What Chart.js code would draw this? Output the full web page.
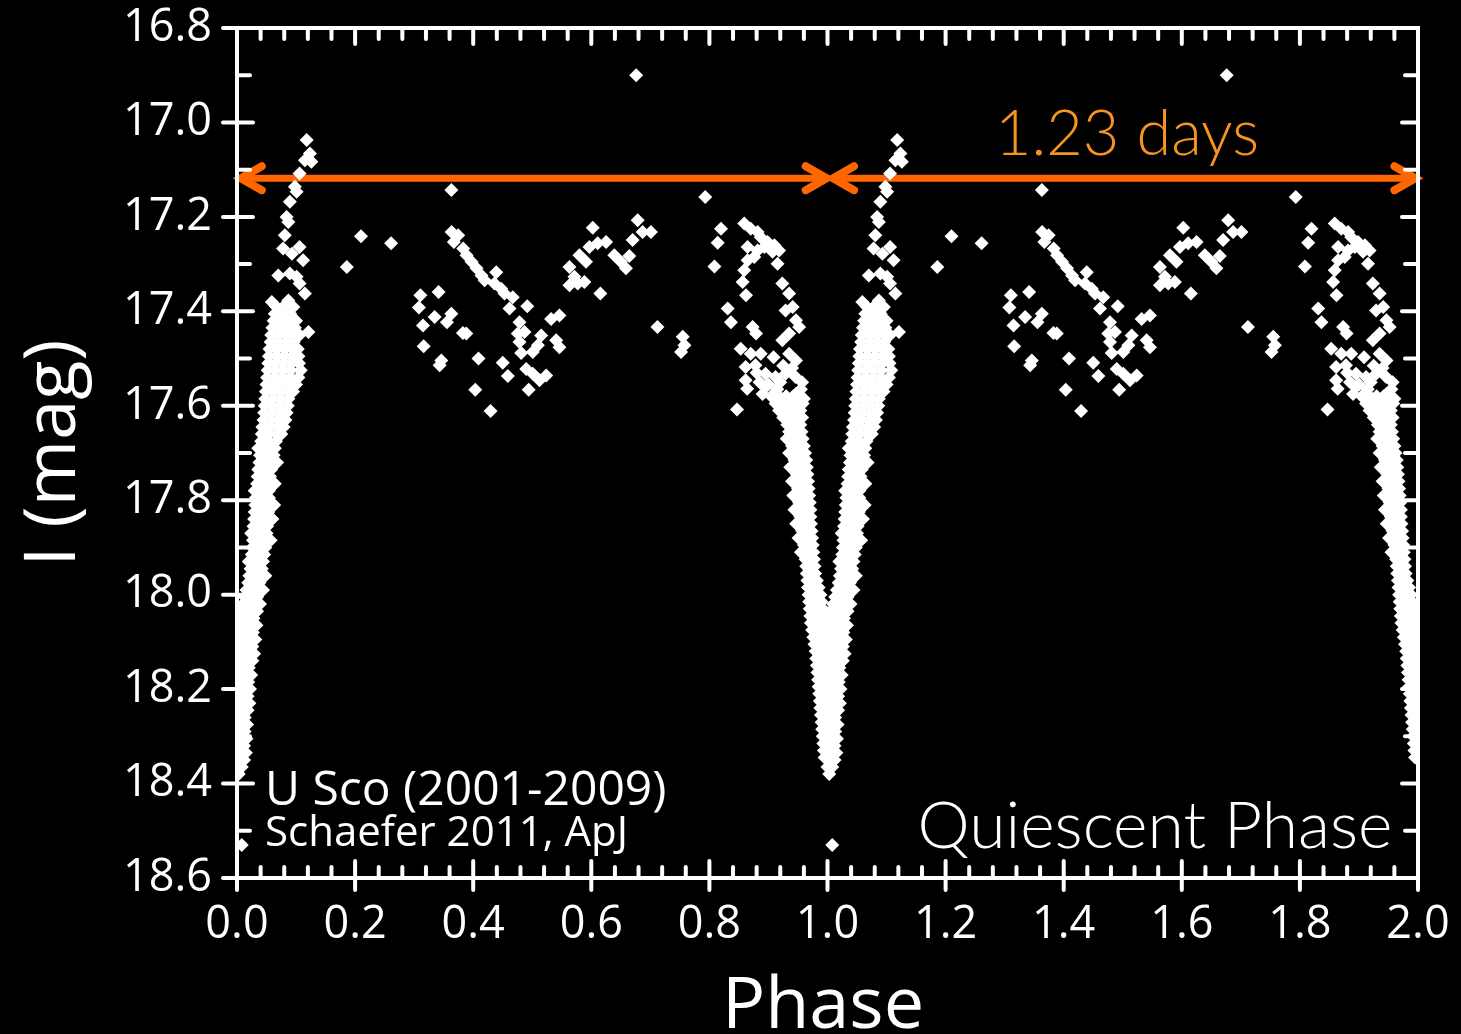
<!DOCTYPE html>
<html><head><meta charset="utf-8">
<script src="https://cdn.jsdelivr.net/npm/chart.js@4.4.1/dist/chart.umd.min.js"></script>
<style>html,body{margin:0;padding:0;background:#000;overflow:hidden}#wrap{width:1461px;height:1034px}</style>
</head><body><div id="wrap"><canvas id="c" width="1461" height="1034"></canvas></div>
<script>
// ---- tick values ----
const xTickValues = [0.0,0.2,0.4,0.6,0.8,1.0,1.2,1.4,1.6,1.8,2.0];
const yTickValues = [16.8,17.0,17.2,17.4,17.6,17.8,18.0,18.2,18.4,18.6];
const cycleShifts = [0, 1];           // each folded phase point is shown in two cycles
const periodArrowMag = 17.118;        // magnitude of the orange period arrows
const periodText = "1.23 days";

// ---- data: egress band, rows of [I mag, [phases...]] (phase folded 0..1) ----
const egressRows = [
 [18.38,[0.003]],
 [18.365,[0.000,0.008]],
 [18.35,[0.004,0.012]],
 [18.335,[0.000,0.008,0.015]],
 [18.32,[0.003,0.012]],
 [18.305,[0.000,0.008,0.016]],
 [18.29,[0.004,0.013]],
 [18.275,[0.000,0.009,0.017]],
 [18.26,[0.004,0.013]],
 [18.245,[0.000,0.009,0.018]],
 [18.23,[0.004,0.014,0.021]],
 [18.215,[0.000,0.009,0.018]],
 [18.20,[0.004,0.014,0.022]],
 [18.185,[0.000,0.009,0.019]],
 [18.17,[0.004,0.014,0.024]],
 [18.155,[0.000,0.010,0.020]],
 [18.14,[0.005,0.015,0.026]],
 [18.125,[0.001,0.011,0.021,0.029]],
 [18.11,[0.006,0.016,0.026]],
 [18.095,[0.002,0.012,0.022,0.031]],
 [18.08,[0.007,0.017,0.027]],
 [18.065,[0.003,0.013,0.023,0.033]],
 [18.05,[0.008,0.018,0.028]],
 [18.035,[0.005,0.014,0.024,0.034]],
 [18.02,[0.010,0.020,0.030,0.039]],
 [18.005,[0.013,0.023,0.034]],
 [17.99,[0.016,0.026,0.036,0.044]],
 [17.975,[0.019,0.029,0.038]],
 [17.96,[0.021,0.031,0.040,0.048]],
 [17.945,[0.023,0.033,0.042]],
 [17.93,[0.020,0.024,0.035,0.044]],
 [17.915,[0.025,0.036,0.046]],
 [17.90,[0.026,0.037,0.048]],
 [17.885,[0.027,0.038,0.049,0.057]],
 [17.87,[0.024,0.027,0.039,0.050]],
 [17.855,[0.028,0.040,0.051]],
 [17.84,[0.029,0.041,0.052,0.060]],
 [17.825,[0.030,0.042,0.053]],
 [17.81,[0.031,0.043,0.053,0.063]],
 [17.795,[0.032,0.044,0.054]],
 [17.78,[0.030,0.033,0.045,0.054]],
 [17.765,[0.034,0.046,0.055,0.064]],
 [17.75,[0.035,0.047,0.056]],
 [17.735,[0.036,0.048,0.058]],
 [17.72,[0.038,0.049,0.060,0.068]],
 [17.705,[0.039,0.051,0.062]],
 [17.69,[0.036,0.040,0.052,0.064]],
 [17.675,[0.041,0.053,0.066]],
 [17.66,[0.042,0.054,0.068,0.075]],
 [17.645,[0.043,0.056,0.069,0.079]],
 [17.63,[0.045,0.057,0.070,0.082]],
 [17.615,[0.046,0.059,0.072,0.084]],
 [17.60,[0.047,0.060,0.073,0.086]],
 [17.585,[0.048,0.061,0.074,0.087]],
 [17.57,[0.049,0.062,0.075,0.088,0.095]],
 [17.555,[0.050,0.063,0.076,0.089,0.100]],
 [17.54,[0.051,0.064,0.077,0.090,0.104]],
 [17.525,[0.052,0.065,0.078,0.091,0.108]],
 [17.51,[0.053,0.066,0.079,0.092,0.105]],
 [17.495,[0.054,0.067,0.080,0.093,0.104]],
 [17.48,[0.055,0.068,0.081,0.094,0.103]],
 [17.465,[0.057,0.070,0.083,0.096]],
 [17.45,[0.058,0.071,0.084,0.097,0.106]],
 [17.435,[0.060,0.073,0.086,0.098]],
 [17.42,[0.062,0.075,0.088,0.100]],
 [17.405,[0.064,0.077,0.090]],
 [17.39,[0.066,0.079,0.092]]
];
// ---- ingress band, rows of [I mag, [phases...]] ----
const ingressRows = [
 [17.58,[0.905,0.918,0.930,0.942,0.953]],
 [17.595,[0.912,0.925,0.937,0.949,0.958]],
 [17.61,[0.918,0.930,0.942,0.954]],
 [17.625,[0.925,0.937,0.948,0.957]],
 [17.64,[0.932,0.943,0.954]],
 [17.655,[0.935,0.946,0.956]],
 [17.67,[0.931,0.938,0.949,0.958]],
 [17.685,[0.940,0.951,0.960]],
 [17.70,[0.935,0.942,0.953,0.962]],
 [17.715,[0.944,0.955,0.964]],
 [17.73,[0.937,0.946,0.957,0.965]],
 [17.745,[0.948,0.958,0.966]],
 [17.76,[0.940,0.949,0.959,0.967]],
 [17.775,[0.950,0.960,0.968]],
 [17.79,[0.942,0.951,0.961,0.969]],
 [17.805,[0.952,0.962,0.970]],
 [17.82,[0.944,0.953,0.963,0.971]],
 [17.835,[0.954,0.964,0.971]],
 [17.85,[0.947,0.956,0.965,0.972]],
 [17.865,[0.957,0.966,0.973]],
 [17.88,[0.951,0.959,0.967,0.974]],
 [17.895,[0.960,0.968,0.975]],
 [17.91,[0.955,0.962,0.969,0.976]],
 [17.925,[0.963,0.970,0.977]],
 [17.94,[0.964,0.971,0.978]],
 [17.955,[0.965,0.972,0.979]],
 [17.97,[0.966,0.974,0.982]],
 [17.985,[0.967,0.976,0.985]],
 [18.00,[0.968,0.978,0.988]],
 [18.015,[0.969,0.979,0.990]],
 [18.03,[0.970,0.980,0.992]],
 [18.045,[0.971,0.982,0.994]],
 [18.06,[0.972,0.984,0.996]],
 [18.075,[0.974,0.986,0.998]],
 [18.09,[0.976,0.988,0.999]],
 [18.105,[0.978,0.989,0.999]],
 [18.12,[0.980,0.990]],
 [18.135,[0.981,0.992]],
 [18.15,[0.982,0.993]],
 [18.165,[0.983,0.994]],
 [18.18,[0.984,0.995]],
 [18.195,[0.985,0.996]],
 [18.21,[0.986,0.997]],
 [18.225,[0.987,0.997]],
 [18.24,[0.988,0.998]],
 [18.255,[0.989,0.998]],
 [18.27,[0.990,0.999]],
 [18.285,[0.991,0.999]],
 [18.30,[0.992]],
 [18.315,[0.993]],
 [18.33,[0.994]],
 [18.345,[0.995]]
];
// ---- sparse points: [phase, I mag] ----
const egressUpper = [
 [0.118,17.037],[0.1235,17.066],[0.115,17.080],[0.126,17.083],[0.106,17.108],
 [0.098,17.136],[0.101,17.147],[0.0895,17.168],[0.084,17.200],[0.087,17.211],
 [0.081,17.239],[0.078,17.267],[0.093,17.278],[0.106,17.264],[0.112,17.292],
 [0.070,17.324],[0.0895,17.320],[0.101,17.327],[0.106,17.341],[0.115,17.362],
 [0.121,17.444],[0.059,17.38],[0.087,17.377],[0.0955,17.391]
];
const quiescentScatter = [
 [0.186,17.306],[0.210,17.241],[0.261,17.256],[0.363,17.143],
 [0.3635,17.232],[0.3746,17.239],[0.3673,17.253],[0.3831,17.267],[0.3888,17.281],[0.3972,17.295],[0.4057,17.309],[0.4141,17.324],[0.4193,17.334],
 [0.439,17.317],[0.436,17.341],[0.4475,17.352],[0.453,17.362],[0.467,17.370],[0.4615,17.394],[0.4915,17.389],
 [0.3105,17.366],[0.3415,17.359],[0.308,17.392],[0.3347,17.412],[0.363,17.405],[0.3555,17.423],[0.315,17.430],[0.3826,17.446],[0.3883,17.447],[0.3161,17.474],[0.346,17.504],[0.3432,17.514],[0.409,17.500],[0.450,17.509],[0.4587,17.537],[0.4035,17.566],[0.4294,17.611],
 [0.4784,17.423],[0.4755,17.447],[0.4869,17.444],[0.4784,17.465],[0.5151,17.451],[0.5095,17.472],[0.501,17.486],[0.4813,17.488],[0.532,17.416],[0.546,17.409],[0.5405,17.461],[0.546,17.476],[0.4898,17.522],[0.501,17.532],[0.5123,17.546],[0.5236,17.536],[0.494,17.566],
 [0.563,17.306],[0.5714,17.327],[0.563,17.345],[0.577,17.341],[0.5883,17.338],[0.5799,17.281],[0.591,17.295],[0.5968,17.264],[0.6108,17.256],[0.625,17.253],[0.639,17.281],[0.650,17.295],[0.6587,17.309],[0.6644,17.283],[0.6025,17.223],[0.670,17.249],[0.6786,17.207],[0.6869,17.232],[0.701,17.232],[0.6154,17.362],[0.712,17.433],
 [0.7549,17.454],[0.7577,17.472],[0.752,17.486]
];
const ingressUpper = [
 [0.793,17.158],[0.8196,17.225],[0.814,17.255],[0.8085,17.305],[0.831,17.394],[0.8365,17.423],[0.8467,17.608],
 [0.859,17.214],[0.870,17.225],[0.8817,17.232],[0.887,17.243],[0.8985,17.253],[0.910,17.260],[0.918,17.271],[0.907,17.274],[0.893,17.264],[0.8817,17.271],[0.876,17.285],[0.8647,17.292],[0.859,17.313],[0.9154,17.299],[0.8647,17.264],[0.8563,17.338],[0.862,17.366],
 [0.8732,17.433],[0.879,17.447],
 [0.9235,17.341],[0.935,17.362],[0.941,17.391],[0.929,17.398],[0.9467,17.419],[0.952,17.433],[0.935,17.447],[0.9235,17.461],
 [0.853,17.479],[0.870,17.49],[0.887,17.49],[0.9087,17.497],[0.935,17.49],[0.9467,17.504],[0.8613,17.518],[0.878,17.514],[0.895,17.532],[0.8613,17.546],[0.864,17.564],[0.895,17.560],[0.912,17.539],[0.929,17.532],[0.946,17.539],[0.907,17.582],[0.929,17.582],[0.9467,17.575],
 [0.885,17.55],[0.900,17.555],[0.920,17.55],[0.890,17.575],[0.915,17.565],[0.880,17.53],[0.925,17.515],[0.940,17.52],[0.957,17.55],[0.960,17.585],[0.955,17.565]
];
const outliers = [[0.676,16.90],[0.008,18.53]];

// ---- build the two-cycle point table ----
const basePoints = [];
[egressRows, ingressRows].forEach(rows => rows.forEach(([m, ps]) => ps.forEach(p => basePoints.push([p, m]))));
[egressUpper, quiescentScatter, ingressUpper, outliers].forEach(list => list.forEach(pt => basePoints.push(pt)));
const points = [];
cycleShifts.forEach(s => basePoints.forEach(([p, m]) => points.push({x: p + s, y: m})));

const FONT_TICK = {family: 'Open Sans', size: 45};

const bgPlugin = {
  id: 'bg',
  beforeDraw(chart) {
    const c = chart.ctx; c.save(); c.fillStyle = '#000';
    c.fillRect(0, 0, chart.width, chart.height); c.restore();
  }
};

const arrowPlugin = {
  id: 'arrows',
  beforeDatasetsDraw(chart) {
    const {ctx, scales: {x, y}} = chart;
    const yy = y.getPixelForValue(periodArrowMag);
    const spans = [[0.003, 1.002], [1.006, 1.999]];
    ctx.save();
    ctx.strokeStyle = '#FF6600';
    spans.forEach(([a, b]) => {
      const x1 = x.getPixelForValue(a), x2 = x.getPixelForValue(b);
      ctx.lineWidth = 7; ctx.lineCap = 'butt';
      ctx.beginPath(); ctx.moveTo(x1 + 3, yy); ctx.lineTo(x2 - 3, yy); ctx.stroke();
      ctx.lineWidth = 8; ctx.lineCap = 'round'; ctx.lineJoin = 'miter';
      ctx.beginPath(); ctx.moveTo(x1 + 23, yy - 12); ctx.lineTo(x1 + 2, yy); ctx.lineTo(x1 + 23, yy + 12); ctx.stroke();
      ctx.beginPath(); ctx.moveTo(x2 - 23, yy - 12); ctx.lineTo(x2 - 2, yy); ctx.lineTo(x2 - 23, yy + 12); ctx.stroke();
    });
    ctx.restore();
  }
};

const framePlugin = {
  id: 'frame',
  afterDatasetsDraw(chart) {
    const {ctx, chartArea: a, scales: {x, y}} = chart;
    ctx.save();
    ctx.strokeStyle = '#fff'; ctx.lineWidth = 4; ctx.lineCap = 'round';
    const seg = (x1, y1, x2, y2) => { ctx.beginPath(); ctx.moveTo(x1, y1); ctx.lineTo(x2, y2); ctx.stroke(); };
    for (let i = 0; i <= 50; i++) {          // x ticks: minor 0.04, major 0.2
      const px = x.getPixelForValue(i * 0.04);
      const major = i % 5 === 0;
      seg(px, a.bottom - (major ? 17 : 11), px, a.bottom + (major ? 12 : 0));
      seg(px, a.top, px, a.top + (major ? 16 : 11));
    }
    for (let j = 0; j <= 18; j++) {          // y ticks: minor 0.1, major 0.2
      const py = y.getPixelForValue(16.8 + j * 0.1);
      const major = j % 2 === 0;
      seg(a.left - (major ? 14 : 0), py, a.left + (major ? 16 : 13), py);
      seg(a.right - (major ? 16 : 13), py, a.right, py);
    }
    ctx.strokeRect(a.left, a.top, a.right - a.left, a.bottom - a.top);
    ctx.restore();
  }
};

const textPlugin = {
  id: 'texts',
  afterDraw(chart) {
    const ctx = chart.ctx;
    ctx.save();
    ctx.fillStyle = '#fff';
    ctx.textBaseline = 'alphabetic';
    ctx.font = '72px "Open Sans"'; ctx.textAlign = 'center';
    ctx.fillText('Phase', 823, 1028);
    ctx.save(); ctx.translate(75, 453); ctx.rotate(-Math.PI / 2);
    ctx.fillText('I (mag)', 0, 0); ctx.restore();
    ctx.textAlign = 'left';
    ctx.font = '48px "Open Sans"'; ctx.fillText('U Sco (2001-2009)', 265, 805);
    ctx.font = '42px "Open Sans"'; ctx.fillText('Schaefer 2011, ApJ', 265, 846);
    ctx.textAlign = 'center';
    ctx.font = '300 66px Lato'; ctx.fillText('Quiescent Phase', 1155, 848);
    ctx.fillStyle = '#F7941E';
    ctx.font = '300 63px Lato'; ctx.fillText(periodText, 1127, 155);
    ctx.restore();
  }
};

new Chart(document.getElementById('c'), {
  type: 'scatter',
  data: {datasets: [{
    data: points,
    pointStyle: 'rectRot', pointRadius: 7, pointHoverRadius: 7,
    backgroundColor: '#fff', borderWidth: 0, pointBorderWidth: 0
  }]},
  options: {
    responsive: false, animation: false, devicePixelRatio: 1, events: [],
    layout: {padding: {top: 28, right: 43, left: 0, bottom: 0}},
    plugins: {legend: {display: false}, tooltip: {enabled: false}},
    scales: {
      x: {
        type: 'linear', min: 0, max: 2,
        grid: {display: false, drawTicks: false}, border: {display: false},
        afterBuildTicks: s => { s.ticks = xTickValues.map(v => ({value: v})); },
        afterFit: s => { s.height = 156; s.paddingLeft = 0; s.paddingRight = 0; },
        ticks: {color: '#fff', font: FONT_TICK, padding: 20, maxRotation: 0, autoSkip: false,
                callback: v => Number(v).toFixed(1)}
      },
      y: {
        type: 'linear', min: 16.8, max: 18.6, reverse: true,
        grid: {display: false, drawTicks: false}, border: {display: false},
        afterBuildTicks: s => { s.ticks = yTickValues.map(v => ({value: v})); },
        afterFit: s => { s.width = 237; s.paddingTop = 0; s.paddingBottom = 0; },
        ticks: {color: '#fff', font: FONT_TICK, padding: 25, autoSkip: false,
                callback: v => Number(v).toFixed(1)}
      }
    }
  },
  plugins: [bgPlugin, arrowPlugin, framePlugin, textPlugin]
});
</script></body></html>
